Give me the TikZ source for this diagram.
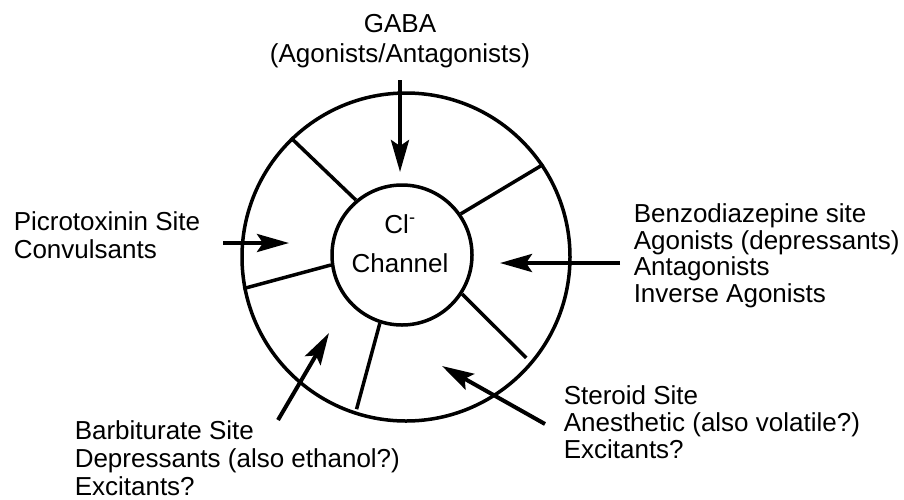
\documentclass[tikz,border=0pt]{standalone}
\usepackage{fontspec}
\setmainfont{Liberation Sans}
\usetikzlibrary{arrows.meta,calc}

\begin{document}
\begin{tikzpicture}[x=1pt, y=-1pt, line width=3.5pt,
        site/.style = {draw, circle, inner sep=0pt},
        txt/.style = {align=left, anchor=base west, inner sep=0pt, font=\fontsize{26}{27.5}\selectfont},
        arr/.style = {line width=4pt, -{Stealth[length=32pt, width=18pt, inset=6pt]}}]
        \useasboundingbox (0,0) rectangle (904,499);

        \node[site, minimum size=328pt] (ring) at (406,257) {};
        \node[site, minimum size=140pt] (chan) at (402,255) {};
        \node[txt, anchor=base, align=center] (cl) at (400,272) {Cl\textsuperscript{-}\\[11.5pt]Channel};

        % walls between the sites
        \draw (chan.130) -- (ring.134);
        \draw (chan.35) -- (ring.34);
        \draw (chan.188) -- (ring.191);
        \draw (chan.-33) -- ($(ring.center)+(-40:157pt)$);
        \draw (chan.-108) -- ($(ring.center)+(-108:160pt)$);

        \node[txt, anchor=base, align=center] (gaba) at (400,62) {GABA\\[2.5pt](Agonists/Antagonists)};
        \node[txt] (picro) at (12,258) {Picrotoxinin Site\\Convulsants};
        \node[txt] (benzo) at (632,302) {Benzodiazepine site\\[-1pt]Agonists (depressants)\\[-1pt]Antagonists\\[-1pt]Inverse Agonists};
        \node[txt] (barb) at (73,495) {Barbiturate Site\\[0.5pt]Depressants (also ethanol?)\\[0.5pt]Excitants?};
        \node[txt] (steroid) at (562,458) {Steroid Site\\[-0.5pt]Anesthetic (also volatile?)\\[-0.5pt]Excitants?};

        \coordinate (gtip) at (400,172);
        \coordinate (ptip) at (289,243);
        \coordinate (btip) at (500,263);
        \coordinate (rtip) at (329,333);
        \coordinate (stip) at (442,366);

        \draw[arr] ($(gaba.base)+(0,18)$) -- (gtip);
        \draw[arr] ($(picro.base west)+(211,-15)$) -- (ptip);
        \draw[arr] ($(benzo.base west)+(-12,-39)$) -- (btip);
        \draw[arr] ($(barb.base west)+(205,-75)$) -- (rtip);
        \draw[arr] ($(steroid.base west)+(-17,-34)$) -- (stip);

    \end{tikzpicture}
\end{document}
